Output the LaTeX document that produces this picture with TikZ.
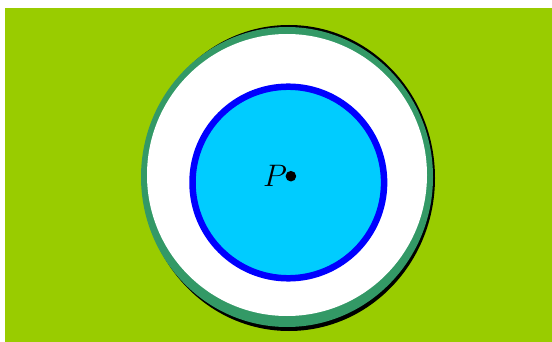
\documentclass[tikz,border=0pt]{standalone}
\usepackage{graphicx}
\definecolor{bggreen}{HTML}{99CC00}
\definecolor{ringteal}{HTML}{339966}
\definecolor{innercyan}{HTML}{00CCFF}
\begin{document}
\begin{tikzpicture}[x=1pt,y=-1pt,
  dotstyle/.style={circle,fill=black,inner sep=0pt,minimum size=10.6pt}]
\useasboundingbox (0,0) rectangle (552,342);
\fill[white] (0,0) rectangle (552,342);
\fill[bggreen] (5,8) rectangle (552,342);
% shadow, teal ring, white annulus
\fill[black] (289,178) ellipse [x radius=146, y radius=153];
\fill[ringteal] (287,177) ellipse [x radius=146, y radius=150];
\fill[white] (287,175) ellipse [x radius=140, y radius=141];
% inner circle
\draw[blue,fill=innercyan,line width=6.5pt] (288.3,182.5) circle [radius=95.8];
% point P
\node[dotstyle] (p) at (290.9,176.2) {};
\node[anchor=base west,inner sep=0pt,font=\Huge] (plabel) at (263,186.5) {\scalebox{1.25}{$P$}};
\end{tikzpicture}
\end{document}
